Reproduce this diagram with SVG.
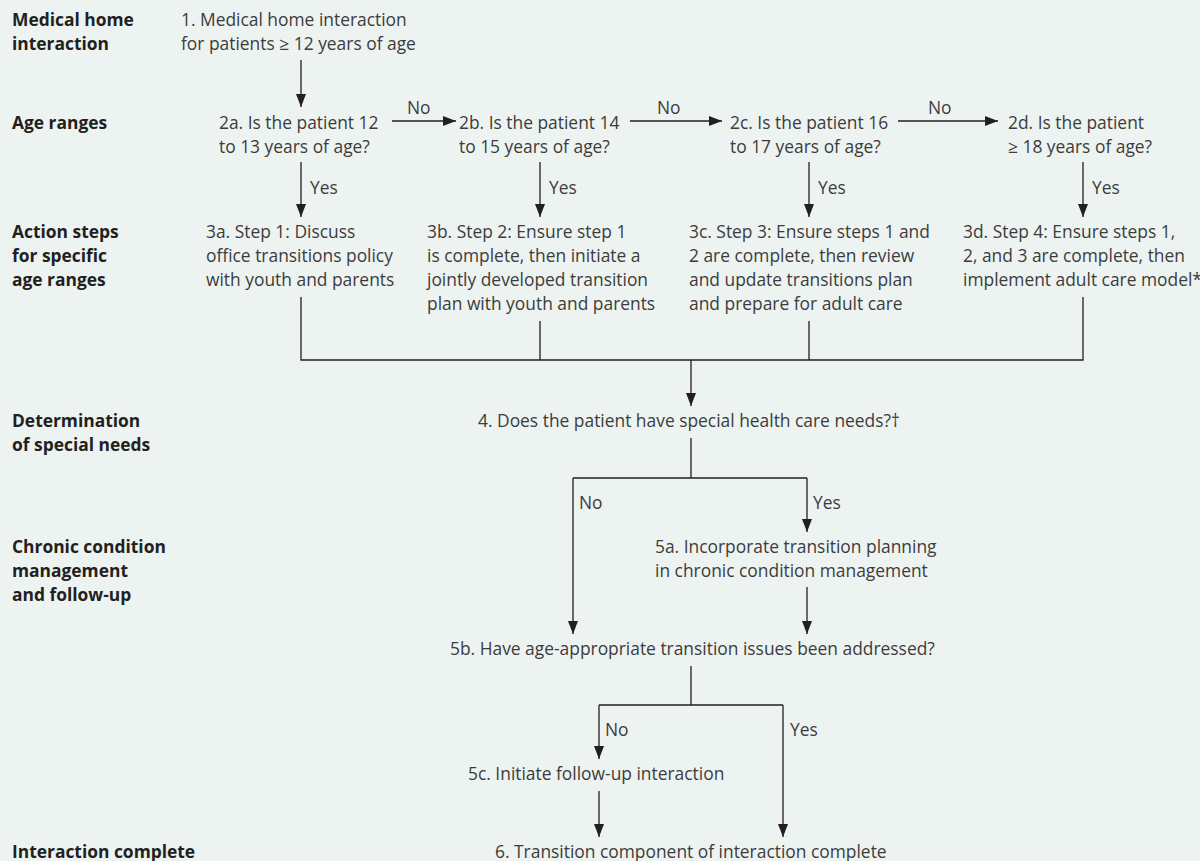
<svg xmlns="http://www.w3.org/2000/svg" width="1200" height="861" viewBox="0 0 1200 861">
<defs>
<marker id="ah" markerUnits="userSpaceOnUse" markerWidth="13" markerHeight="12" refX="13" refY="5" orient="auto">
<path d="M0,0 L13,5 L0,10 z" fill="#231f20"/>
</marker>
<style>
text{font-family:"Open Sans","Liberation Sans",sans-serif;font-size:17.4px;fill:#3c3c3c;}
.lb{font-weight:bold;fill:#231f20;}
.c line,.c path{stroke:#231f20;stroke-width:1.3;fill:none;}
.a{marker-end:url(#ah);}
</style>
</defs>
<rect width="1200" height="861" fill="#edf3f1"/>
<g id="labels">
<text class="lb" x="12" y="26">Medical home</text>
<text class="lb" x="12" y="50">interaction</text>
<text class="lb" x="12" y="129">Age ranges</text>
<text class="lb" x="12" y="238">Action steps</text>
<text class="lb" x="12" y="262">for specific</text>
<text class="lb" x="12" y="286">age ranges</text>
<text class="lb" x="12" y="427">Determination</text>
<text class="lb" x="12" y="451">of special needs</text>
<text class="lb" x="12" y="553">Chronic condition</text>
<text class="lb" x="12" y="577">management</text>
<text class="lb" x="12" y="601">and follow-up</text>
<text class="lb" x="12" y="858">Interaction complete</text>
</g>
<g id="n1"><text x="181" y="26">1. Medical home interaction</text><text x="181" y="50">for patients ≥ 12 years of age</text></g>
<g id="n2a"><text x="219" y="129">2a. Is the patient 12</text><text x="219" y="153">to 13 years of age?</text></g>
<g id="n2b"><text x="459" y="129">2b. Is the patient 14</text><text x="459" y="153">to 15 years of age?</text></g>
<g id="n2c"><text x="730" y="129">2c. Is the patient 16</text><text x="730" y="153">to 17 years of age?</text></g>
<g id="n2d"><text x="1008" y="129">2d. Is the patient</text><text x="1008" y="153">≥ 18 years of age?</text></g>
<g id="n3a"><text x="206" y="238">3a. Step 1: Discuss</text><text x="206" y="262">office transitions policy</text><text x="206" y="286">with youth and parents</text></g>
<g id="n3b"><text x="427" y="238">3b. Step 2: Ensure step 1</text><text x="427" y="262">is complete, then initiate a</text><text x="427" y="286">jointly developed transition</text><text x="427" y="310">plan with youth and parents</text></g>
<g id="n3c"><text x="689" y="238">3c. Step 3: Ensure steps 1 and</text><text x="689" y="262">2 are complete, then review</text><text x="689" y="286">and update transitions plan</text><text x="689" y="310">and prepare for adult care</text></g>
<g id="n3d"><text x="963" y="238">3d. Step 4: Ensure steps 1,</text><text x="963" y="262">2, and 3 are complete, then</text><text x="963" y="286">implement adult care model*</text></g>
<g id="n4"><text x="478" y="427">4. Does the patient have special health care needs?†</text></g>
<g id="n5a"><text x="655" y="553">5a. Incorporate transition planning</text><text x="655" y="577">in chronic condition management</text></g>
<g id="n5b"><text x="450" y="655">5b. Have age-appropriate transition issues been addressed?</text></g>
<g id="n5c"><text x="468" y="780">5c. Initiate follow-up interaction</text></g>
<g id="n6"><text x="495" y="858">6. Transition component of interaction complete</text></g>
<g id="connectors" class="c">
<line class="a" x1="301" y1="60" x2="301" y2="107"/>
<line class="a" x1="392" y1="121" x2="456" y2="121"/>
<line class="a" x1="630" y1="121" x2="722" y2="121"/>
<line class="a" x1="898" y1="121" x2="998" y2="121"/>
<line class="a" x1="301" y1="162" x2="301" y2="217"/>
<line class="a" x1="540" y1="162" x2="540" y2="217"/>
<line class="a" x1="809" y1="162" x2="809" y2="217"/>
<line class="a" x1="1083" y1="162" x2="1083" y2="217"/>
<path d="M301,297 V360 H1083 V297 M540,321 V360 M809,321 V360"/>
<line class="a" x1="691" y1="360" x2="691" y2="406"/>
<path d="M691,438 V478 M573,478 H807"/>
<line class="a" x1="573" y1="478" x2="573" y2="634"/>
<line class="a" x1="807" y1="478" x2="807" y2="532"/>
<line class="a" x1="807" y1="587" x2="807" y2="634"/>
<path d="M691,666 V705 M599,705 H783"/>
<line class="a" x1="599" y1="705" x2="599" y2="759"/>
<line class="a" x1="783" y1="705" x2="783" y2="837"/>
<line class="a" x1="599" y1="791" x2="599" y2="837"/>
</g>
<g id="edge-labels">
<text x="407" y="114">No</text>
<text x="657" y="114">No</text>
<text x="928" y="114">No</text>
<text x="310" y="194">Yes</text>
<text x="549" y="194">Yes</text>
<text x="818" y="194">Yes</text>
<text x="1092" y="194">Yes</text>
<text x="579" y="509">No</text>
<text x="813" y="509">Yes</text>
<text x="605" y="736">No</text>
<text x="790" y="736">Yes</text>
</g>
</svg>
